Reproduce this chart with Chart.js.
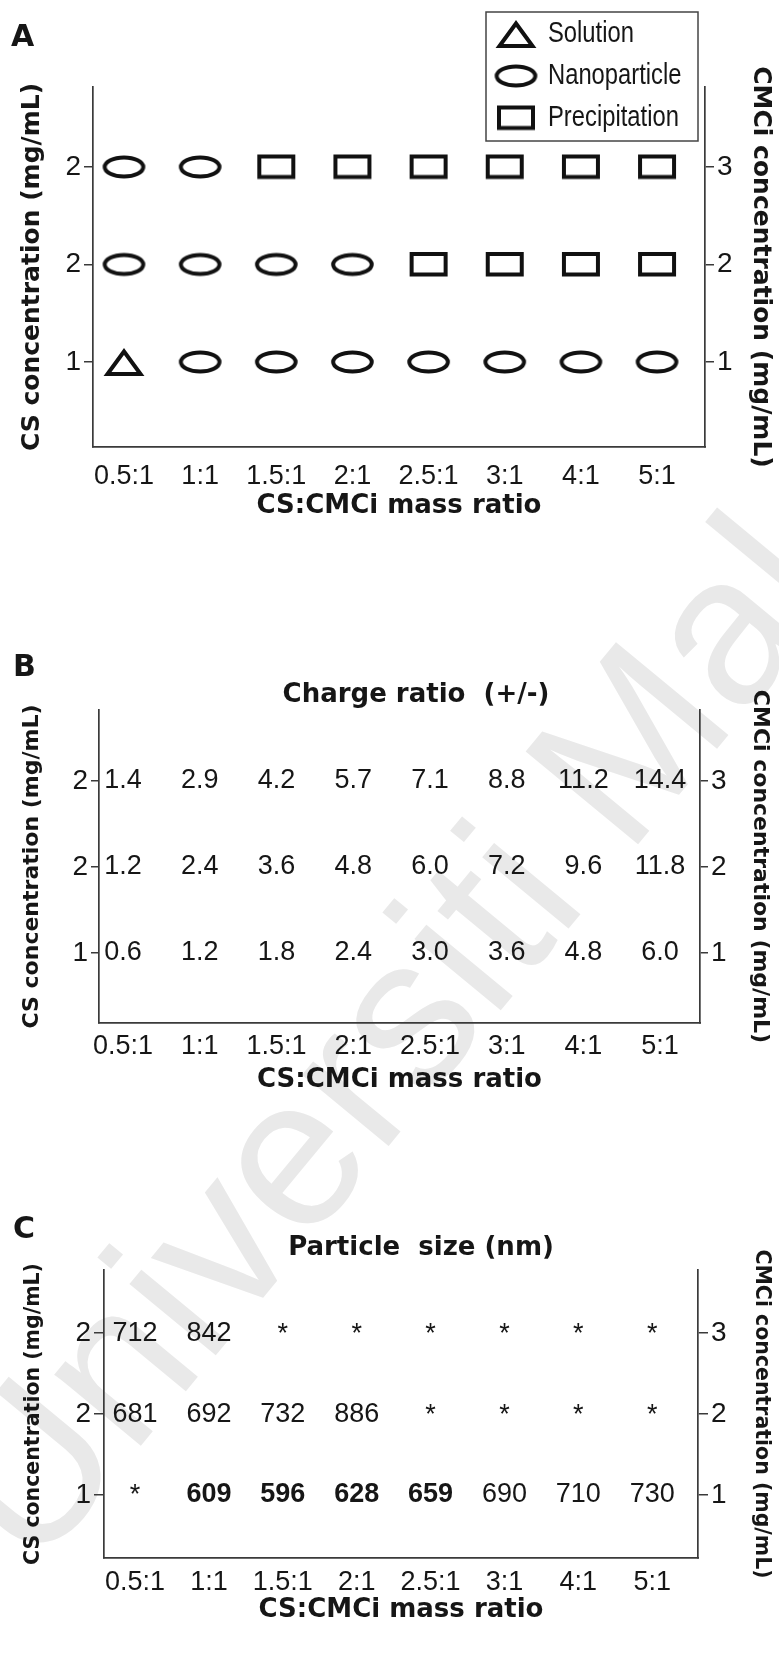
<!DOCTYPE html>
<html>
<head>
<meta charset="utf-8">
<script src="https://cdn.jsdelivr.net/npm/chart.js@4.4.1/dist/chart.umd.min.js"></script>
<style>
  html, body { margin: 0; padding: 0; background: #fff; }
  body { width: 779px; height: 1654px; position: relative; overflow: hidden; }
  canvas { position: absolute; left: 0; }
</style>
</head>
<body>
<canvas id="stamp" width="779" height="1654" style="top:0"></canvas>
<canvas id="panelA" width="779" height="530" style="top:0"></canvas>
<canvas id="panelB" width="779" height="500" style="top:600px"></canvas>
<canvas id="panelC" width="779" height="524" style="top:1130px"></canvas>
<script>
// ---- categories and tick labels ----
const massRatios = ['0.5:1', '1:1', '1.5:1', '2:1', '2.5:1', '3:1', '4:1', '5:1'];
const csLevels = ['1', '2', '2'];      // CS concentration, bottom row to top row
const cmciLevels = ['1', '2', '3'];    // CMCi concentration, bottom row to top row

// ---- A: state of each formulation (S solution, N nanoparticle, P precipitation) ----
const stateRow1 = ['S', 'N', 'N', 'N', 'N', 'N', 'N', 'N'];
const stateRow2 = ['N', 'N', 'N', 'N', 'P', 'P', 'P', 'P'];
const stateRow3 = ['N', 'N', 'P', 'P', 'P', 'P', 'P', 'P'];
const stateNames = { S: 'Solution', N: 'Nanoparticle', P: 'Precipitation' };

// ---- B: charge ratio (+/-) ----
const chargeRow1 = [0.6, 1.2, 1.8, 2.4, 3.0, 3.6, 4.8, 6.0];
const chargeRow2 = [1.2, 2.4, 3.6, 4.8, 6.0, 7.2, 9.6, 11.8];
const chargeRow3 = [1.4, 2.9, 4.2, 5.7, 7.1, 8.8, 11.2, 14.4];

// ---- C: particle size (nm); null = not measurable (*) ----
const sizeRow1 = [null, 609, 596, 628, 659, 690, 710, 730];
const sizeRow2 = [681, 692, 732, 886, null, null, null, null];
const sizeRow3 = [712, 842, null, null, null, null, null, null];
const selectedRow1 = [false, true, true, true, true, false, false, false];

const ink = '#161616';
const axisInk = '#3a3a3a';
const sans = '"Liberation Sans", Arial, sans-serif';
const heavy = '"DejaVu Sans", Verdana, sans-serif';

// ---- outline symbols used as point styles ----
function symbol(kind) {
  const c = document.createElement('canvas');
  const g = c.getContext('2d');
  const lw = 4;
  if (kind === 'ellipse') {
    c.width = 47; c.height = 28;
    g.lineWidth = lw; g.strokeStyle = '#111';
    g.beginPath(); g.ellipse(23.5, 14, 19.3, 9.6, 0, 0, Math.PI * 2); g.stroke();
  } else if (kind === 'rect') {
    c.width = 42; c.height = 29;
    g.lineWidth = lw; g.strokeStyle = '#111'; g.lineJoin = 'miter';
    g.strokeRect(4, 4, 34, 20.5);
  } else {
    c.width = 44; c.height = 34;
    g.lineWidth = lw; g.strokeStyle = '#111'; g.lineJoin = 'miter';
    g.beginPath(); g.moveTo(22, 6.5); g.lineTo(5.5, 29); g.lineTo(38.5, 29); g.closePath(); g.stroke();
  }
  return c;
}
const symbols = { S: symbol('triangle'), N: symbol('ellipse'), P: symbol('rect') };

// ---- light stamp lettering across the page background ----
(function () {
  const g = document.getElementById('stamp').getContext('2d');
  g.save();
  g.translate(34, 1575);
  g.rotate(-0.88);
  g.font = '212px ' + sans;
  g.fillStyle = '#e9e9e9';
  g.fillText('Universiti Malaya', 0, 0);
  g.restore();
})();

// ---- plugins ----
const panelText = {
  id: 'panelText',
  afterDraw(chart, args, opts) {
    const ctx = chart.ctx;
    ctx.save();
    (opts.items || []).forEach(t => {
      ctx.font = t.font; ctx.fillStyle = ink;
      ctx.textAlign = t.align || 'left'; ctx.textBaseline = 'middle';
      ctx.fillText(t.text, t.x, t.y);
    });
    ctx.restore();
  }
};

const cellText = {
  id: 'cellText',
  afterDatasetsDraw(chart, args, opts) {
    if (!opts.enabled) return;
    const ctx = chart.ctx;
    ctx.save();
    ctx.fillStyle = ink; ctx.textAlign = 'center'; ctx.textBaseline = 'middle';
    chart.data.datasets.forEach((ds, di) => {
      chart.getDatasetMeta(di).data.forEach((el, i) => {
        const p = ds.data[i];
        ctx.font = (p.strong ? 'bold ' : '') + opts.size + 'px ' + sans;
        ctx.fillText(p.text, el.x, el.y + (p.text === '*' ? 1 : 0));
      });
    });
    ctx.restore();
  }
};

// legend box of panel A; labels use a condensed face
const stateLegend = {
  id: 'stateLegend',
  afterDraw(chart, args, opts) {
    if (!opts.enabled) return;
    const ctx = chart.ctx;
    const b = opts.box;
    ctx.save();
    ctx.fillStyle = '#fff';
    ctx.fillRect(b.x, b.y, b.w, b.h);
    ctx.strokeStyle = '#444'; ctx.lineWidth = 1.5;
    ctx.strokeRect(b.x, b.y, b.w, b.h);
    ctx.fillStyle = ink; ctx.textAlign = 'left'; ctx.textBaseline = 'middle';
    ctx.font = opts.font;
    chart.data.datasets.forEach((ds, i) => {
      const cy = b.y + 22 + i * 42;
      const img = ds.pointStyle;
      ctx.drawImage(img, b.x + 30 - img.width / 2, cy - img.height / 2);
      ctx.save();
      ctx.translate(b.x + 62, cy);
      ctx.scale(0.82, 1);
      ctx.fillText(ds.label, 0, 0);
      ctx.restore();
    });
    ctx.restore();
  }
};

// ---- shared axis layout ----
function axes(p) {
  const yAxis = (pos, labels, title, width) => ({
    type: 'linear', position: pos, min: p.yMin, max: p.yMax,
    afterBuildTicks: s => { s.ticks = labels.map((_, i) => ({ value: i + 1 })); },
    afterFit: s => { s.width = width; },
    grid: { display: true, drawOnChartArea: false, drawTicks: true, tickLength: p.tickLen, color: axisInk, lineWidth: 1.5 },
    border: { display: true, color: axisInk, width: 1.7 },
    ticks: { callback: (v, i) => labels[i], font: { family: sans, size: 28 }, color: ink, padding: 3 },
    title: { display: true, text: title, color: ink, font: { family: heavy, size: p.yTitleSize, weight: 'bold' },
             padding: { top: pos === 'left' ? p.leftTitlePad : p.rightTitlePad, bottom: 0 } }
  });
  return {
    x: {
      type: 'linear', min: p.xMin, max: p.xMax,
      afterBuildTicks: s => { s.ticks = massRatios.map((_, i) => ({ value: i })); },
      afterFit: s => { s.height = p.xHeight; },
      grid: { display: false, drawTicks: false },
      border: { display: true, color: axisInk, width: 1.7 },
      ticks: { callback: v => massRatios[v], font: { family: sans, size: 27 }, color: ink,
               padding: p.xTickPad, autoSkip: false, maxRotation: 0, minRotation: 0 },
      title: { display: true, text: 'CS:CMCi mass ratio', color: ink, font: { family: heavy, size: 26, weight: 'bold' },
               padding: { top: 0, bottom: p.xTitlePad } }
    },
    y: yAxis('left', csLevels, 'CS concentration (mg/mL)', p.leftW),
    y2: yAxis('right', cmciLevels, 'CMCi concentration (mg/mL)', p.rightW)
  };
}

function baseOptions(p, pluginOpts) {
  return {
    responsive: false, animation: false, devicePixelRatio: 1,
    layout: { padding: { top: p.top, left: 0, right: 0, bottom: 0 } },
    scales: axes(p),
    plugins: Object.assign({ legend: { display: false }, tooltip: { enabled: false } }, pluginOpts)
  };
}

// ---- A: formulation states ----
const stateRows = [stateRow1, stateRow2, stateRow3];
const stateDatasets = ['S', 'N', 'P'].map(code => {
  const pts = [];
  stateRows.forEach((row, r) => row.forEach((s, i) => { if (s === code) pts.push({ x: i, y: r + 1 }); }));
  return { label: stateNames[code], data: pts, pointStyle: symbols[code], pointRadius: 14, showLine: false };
});

new Chart(document.getElementById('panelA'), {
  type: 'scatter',
  data: { datasets: stateDatasets },
  options: baseOptions(
    { top: 87, leftW: 93, rightW: 74, xHeight: 83, xMin: -0.407, xMax: 7.63, yMin: 0.128, yMax: 3.82,
      xTickPad: 13.8, xTitlePad: 8, tickLen: 9, yTitleSize: 25, leftTitlePad: 17, rightTitlePad: 4 },
    {
      panelText: { items: [{ text: 'A', x: 11, y: 38, font: 'bold 30px ' + heavy }] },
      stateLegend: { enabled: true, box: { x: 486, y: 12, w: 212, h: 129 }, font: '29px ' + sans },
      cellText: { enabled: false }
    }),
  plugins: [panelText, stateLegend, cellText]
});

// ---- text-cell datasets for B and C ----
function textRows(rows, fmt, strongRow1) {
  return rows.map((row, r) => ({
    label: 'row' + (r + 1),
    data: row.map((v, i) => ({ x: i, y: r + 1, text: fmt(v), strong: r === 0 && strongRow1 ? strongRow1[i] : false })),
    pointRadius: 0, showLine: false
  }));
}

new Chart(document.getElementById('panelB'), {
  type: 'scatter',
  data: { datasets: textRows([chargeRow1, chargeRow2, chargeRow3], v => v.toFixed(1)) },
  options: baseOptions(
    { top: 110, leftW: 99, rightW: 79, xHeight: 77, xMin: -0.313, xMax: 7.52, yMin: 0.186, yMax: 3.826,
      xTickPad: 7.8, xTitlePad: 4, tickLen: 8, yTitleSize: 22, leftTitlePad: 19, rightTitlePad: 6 },
    {
      panelText: { items: [
        { text: 'B', x: 13, y: 68, font: 'bold 30px ' + heavy },
        { text: 'Charge ratio  (+/-)', x: 416, y: 95, align: 'center', font: 'bold 26px ' + heavy }
      ] },
      stateLegend: { enabled: false },
      cellText: { enabled: true, size: 27 }
    }),
  plugins: [panelText, stateLegend, cellText]
});

new Chart(document.getElementById('panelC'), {
  type: 'scatter',
  data: { datasets: textRows([sizeRow1, sizeRow2, sizeRow3], v => v === null ? '*' : String(v), selectedRow1) },
  options: baseOptions(
    { top: 140, leftW: 104, rightW: 81, xHeight: 96, xMin: -0.42, xMax: 7.62, yMin: 0.222, yMax: 3.78,
      xTickPad: 8.8, xTitlePad: 28, tickLen: 10, yTitleSize: 20.5, leftTitlePad: 21, rightTitlePad: 5 },
    {
      panelText: { items: [
        { text: 'C', x: 13, y: 100, font: 'bold 30px ' + heavy },
        { text: 'Particle  size (nm)', x: 421, y: 118, align: 'center', font: 'bold 26px ' + heavy }
      ] },
      stateLegend: { enabled: false },
      cellText: { enabled: true, size: 27 }
    }),
  plugins: [panelText, stateLegend, cellText]
});
</script>
</body>
</html>
